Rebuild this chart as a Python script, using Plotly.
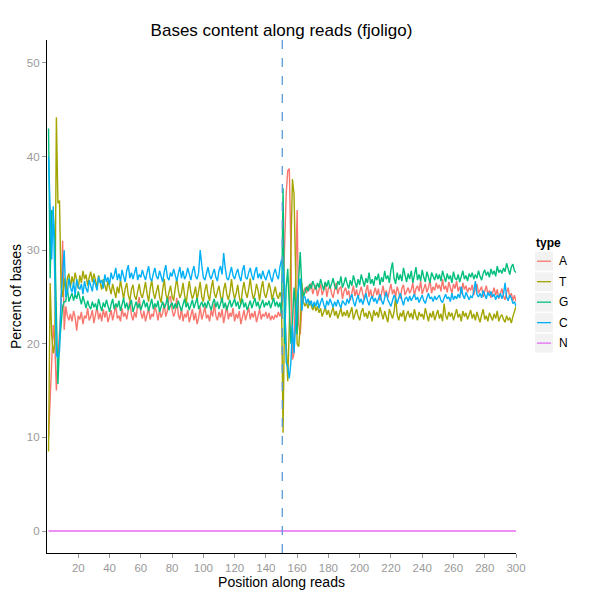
import plotly.graph_objects as go

positions = list(range(1, 301))

A = [10.0, 14.0, 18.0, 22.0, 20.0, 15.0, 18.5, 21.0, 24.0, 31.0, 21.5, 24.0, 23.0, 22.5, 23.2, 22.4, 23.5, 22.8, 21.4, 23.0,
     22.6, 23.4, 22.1, 23.0, 22.7, 23.8, 22.5, 22.9, 23.6, 22.2, 23.1, 24.0, 22.6, 23.3, 22.4, 23.7, 22.8, 23.5, 22.3, 22.9,
     23.6, 22.5, 23.2, 24.1, 22.7, 23.0, 22.4, 23.8, 22.9, 23.3, 22.6, 23.9, 24.6, 23.1, 22.5, 23.4, 22.8, 24.2, 25.0, 23.3,
     22.7, 23.5, 22.4, 23.1, 23.8, 22.6, 23.2, 22.9, 24.0, 23.4, 22.5, 23.6, 22.8, 23.3, 24.3, 22.9, 23.5, 24.8, 25.1, 23.7,
     22.9, 23.4, 24.9, 23.1, 22.6, 23.8, 22.4, 23.2, 22.8, 23.6, 22.3, 23.0, 23.7, 22.5, 23.3, 22.1, 22.8, 23.9, 22.6, 23.2,
     24.0, 22.7, 23.1, 22.4, 23.6, 22.9, 24.3, 23.0, 22.5, 23.4, 22.8, 23.7, 22.2, 23.1, 24.1, 22.6, 23.3, 22.9, 23.8, 22.4,
     23.2, 22.7, 23.5, 22.1, 22.9, 23.6, 22.5, 23.1, 23.9, 22.6, 23.3, 22.8, 23.5, 22.3, 23.0, 23.7, 22.6, 23.2, 22.9, 23.4,
     22.7, 23.3, 22.5, 23.0, 22.6, 23.1, 22.8, 23.4, 22.9, 23.6,
     25.0, 30.0, 36.0, 38.5, 38.7, 30.0, 18.3, 19.0, 26.0, 34.3, 22.0, 21.0, 24.0, 25.5, 26.0, 25.4, 26.2, 25.7, 26.5, 25.3,
     25.9, 26.3, 25.1, 25.8, 26.4, 25.2, 25.7, 26.6, 25.0, 25.9, 26.2, 25.4, 24.9, 25.8, 26.5, 25.3, 25.9, 26.1, 24.8, 25.6,
     26.0, 25.2, 25.7, 24.6, 25.5, 26.2, 25.1, 25.8, 24.9, 25.4, 26.1, 25.3, 24.7, 25.6, 26.3, 25.0, 25.8, 24.8, 25.5, 26.0,
     25.2, 25.9, 24.6, 25.4, 26.2, 25.1, 25.7, 24.9, 25.6, 26.4, 25.3, 25.8, 25.0, 26.1, 25.5, 24.8, 25.9, 26.3, 25.2, 25.7,
     26.0, 25.4, 25.8, 26.5, 25.1, 25.9, 26.2, 25.6, 26.7, 25.3, 25.8, 26.4, 25.5, 26.0, 26.8, 25.4, 26.1, 25.7, 26.5, 25.9,
     26.3, 25.6, 26.9, 25.8, 26.2, 25.5, 26.6, 26.0, 25.4, 26.4, 25.9, 26.7, 25.6, 26.1, 25.3, 26.5, 25.8, 26.2, 25.5, 26.0,
     25.7, 26.3, 25.2, 25.9, 26.4, 25.4, 25.8, 26.1, 25.0, 25.6, 26.2, 25.3, 25.7, 24.9, 25.5, 26.0, 25.2, 25.8, 24.8, 25.4,
     25.9, 25.1, 24.7, 25.5, 26.0, 24.9, 25.4, 24.6, 25.2, 24.5]

T = [8.5, 26.5, 21.0, 19.0, 20.0, 44.2, 35.0, 35.3, 26.0, 25.0, 27.0, 25.5, 27.0, 27.5, 26.0, 27.2, 26.4, 27.6, 26.8, 25.9,
     27.3, 26.5, 27.8, 26.9, 27.4, 26.2, 27.1, 27.7, 26.6, 27.5, 26.8, 26.0, 27.3, 26.5, 25.8, 26.9, 26.2, 25.6, 26.7, 25.9,
     25.3, 26.4, 25.7, 24.9, 26.1, 25.4, 26.8, 25.6, 24.8, 25.9, 26.5, 25.2, 24.6, 25.8, 26.3, 25.1, 24.7, 25.6, 26.4, 25.3,
     24.9, 25.7, 26.6, 25.4, 24.5, 25.9, 26.8, 25.5, 24.8, 25.6, 26.3, 25.0, 24.4, 25.8, 26.9, 25.3, 24.7, 25.5, 26.2, 25.1,
     24.6, 25.9, 27.0, 25.7, 24.9, 25.4, 26.5, 25.2, 24.3, 25.6, 26.7, 25.5, 24.8, 25.3, 26.1, 24.7, 25.8, 26.6, 25.0, 24.5,
     25.7, 26.4, 25.2, 24.6, 25.9, 26.8, 25.4, 24.9, 25.6, 26.2, 25.1, 24.4, 25.8, 26.5, 25.3, 24.7, 25.5, 26.9, 25.6, 24.8,
     25.4, 26.3, 25.0, 24.2, 25.7, 26.6, 25.5, 24.9, 25.8, 27.0, 25.6, 24.8, 25.3, 26.4, 25.7, 24.6, 25.9, 26.7, 25.4, 24.9,
     25.6, 26.5, 25.8, 24.7, 25.4, 26.1, 25.2, 24.8, 25.5, 24.9,
     10.5, 24.0, 20.0, 16.0, 22.0, 32.0, 37.6, 36.0, 28.0, 20.0, 19.7, 22.0, 26.5, 24.5, 24.0, 24.4, 23.8, 24.6, 24.1, 23.6,
     24.2, 23.5, 24.0, 23.3, 23.8, 22.9, 23.4, 23.9, 23.1, 23.6, 22.8, 23.3, 23.9, 23.0, 23.5, 22.7, 23.2, 23.8, 22.9, 23.4,
     23.0, 23.6, 22.8, 23.3, 23.9, 22.6, 23.2, 23.7, 23.0, 22.5, 23.4, 23.8, 22.9, 23.3, 22.7, 23.5, 23.1, 22.4, 23.6, 23.0,
     23.4, 22.8, 23.9, 23.1, 22.6, 23.5, 23.0, 22.3, 23.7, 23.2, 22.7, 23.4, 25.0, 23.1, 22.5, 23.3, 22.9, 23.6, 22.4, 23.1,
     23.5, 22.8, 23.3, 22.6, 23.7, 23.0, 22.5, 23.4, 22.9, 23.2, 22.6, 23.8, 23.0, 22.4, 23.3, 22.8, 23.5, 22.5, 23.1, 23.6,
     22.7, 23.2, 22.4, 24.3, 23.0, 22.6, 23.4, 22.9, 23.3, 22.5, 23.1, 23.7, 22.8, 23.2, 22.4, 23.5, 22.9, 23.3, 22.6, 23.0,
     23.6, 22.7, 23.2, 22.5, 23.4, 22.8, 22.3, 23.1, 23.7, 22.6, 23.0, 22.4, 23.3, 22.9, 22.5, 23.2, 22.7, 23.5, 22.4, 22.9,
     23.1, 22.6, 22.3, 23.0, 22.5, 22.8, 22.2, 22.9, 23.4, 24.0]

G = [43.0, 27.0, 34.3, 33.8, 31.0, 22.0, 15.7, 20.0, 22.0, 24.0, 24.5, 24.5, 26.0, 24.5, 25.0, 25.4, 24.6, 25.3, 24.8, 25.6,
     24.9, 24.2, 25.1, 24.4, 23.8, 24.6, 24.0, 23.7, 24.5, 23.9, 24.3, 23.6, 24.8, 24.1, 23.5, 24.4, 23.9, 24.7, 24.0, 23.4,
     24.2, 24.8, 23.7, 24.3, 23.9, 24.6, 23.5, 24.1, 24.9, 23.8, 24.4, 23.6, 24.2, 24.7, 23.4, 24.0, 24.5, 23.8, 24.3, 23.6,
     24.1, 24.7, 23.9, 24.4, 23.5, 24.2, 24.8, 23.7, 24.3, 23.9, 24.6, 23.4, 24.0, 24.5, 23.8, 24.2, 24.9, 23.6, 24.1, 24.4,
     23.7, 24.3, 23.8, 24.6, 24.0, 23.5, 24.2, 24.8, 23.9, 24.4, 23.6, 24.1, 24.7, 23.8, 24.3, 24.9, 23.7, 24.2, 24.5, 23.9,
     24.4, 23.8, 24.6, 24.1, 23.6, 24.3, 24.8, 23.9, 24.5, 23.7, 24.2, 24.9, 23.8, 24.4, 23.6, 24.1, 24.7, 23.9, 24.3, 24.8,
     24.0, 24.5, 23.7, 24.2, 24.8, 23.9, 24.4, 23.6, 24.1, 24.6, 23.8, 24.3, 24.9, 24.0, 24.5, 23.7, 24.2, 24.7, 23.9, 24.4,
     24.1, 24.6, 23.8, 24.3, 24.9, 24.0, 24.5, 23.9, 24.4, 23.2,
     36.6, 20.0, 26.0, 28.0, 23.0, 20.0, 22.0, 26.0, 24.0, 21.0, 27.0, 29.8, 26.0, 25.0, 25.5, 26.1, 25.6, 26.4, 25.9, 26.7,
     26.2, 25.8, 26.5, 26.0, 26.9, 26.3, 25.7, 26.6, 26.1, 26.8, 25.9, 26.4, 27.0, 26.2, 25.8, 26.7, 26.3, 27.2, 26.0, 26.5,
     27.1, 26.4, 25.9, 26.8, 26.2, 27.3, 26.6, 26.0, 26.9, 26.3, 27.4, 26.7, 26.1, 27.0, 26.5, 27.6, 26.4, 26.9, 26.2, 27.2,
     26.8, 27.5, 26.3, 27.1, 26.6, 27.8, 26.9, 27.3, 26.5, 27.9, 28.7, 27.0, 26.4, 27.6, 26.8, 27.4, 26.7, 28.1, 27.2, 26.6,
     27.5, 26.9, 27.8, 26.5, 27.3, 28.2, 26.8, 27.4, 26.7, 27.9, 27.1, 26.6, 27.7, 27.0, 26.5, 27.6, 27.2, 26.8, 27.5, 26.9,
     27.4, 26.7, 27.8, 27.1, 26.6, 27.5, 26.9, 27.3, 26.5, 27.7, 27.0, 26.8, 27.4, 26.6, 27.2, 27.8, 26.9, 27.3, 26.7, 27.5,
     27.1, 27.6, 26.9, 27.4, 27.0, 27.8, 27.2, 26.8, 27.5, 27.9, 27.3, 27.7, 27.1, 28.0, 27.4, 27.8, 27.2, 28.3, 27.6, 27.9,
     27.5, 28.1, 27.7, 28.6, 28.0, 27.4, 28.2, 28.5, 27.8, 27.6]

C = [40.0, 35.3, 29.0, 34.7, 26.0, 18.8, 18.5, 19.2, 25.0, 27.5, 30.0, 25.0, 25.5, 27.0, 26.0, 25.5, 26.6, 25.2, 26.9, 26.1,
     25.8, 26.4, 25.3, 26.7, 25.9, 25.5, 26.8, 26.2, 25.6, 26.9, 26.4, 25.7, 27.2, 26.5, 26.8, 25.9, 27.4, 26.6, 27.1, 26.3,
     27.6, 26.9, 27.3, 28.1, 26.8, 27.5, 26.7, 27.9, 27.2, 26.6, 27.8, 28.4, 27.0, 27.6, 26.9, 27.7, 28.2, 26.8, 27.4, 27.1,
     27.9, 27.3, 26.8, 27.6, 28.3, 27.0, 26.7, 27.5, 28.1, 27.2, 26.9, 27.8, 27.3, 26.6, 27.7, 28.4, 27.1, 26.8, 27.6, 27.2,
     28.0, 27.4, 26.7, 27.5, 28.2, 27.0, 27.8, 26.9, 27.3, 28.1, 27.5, 26.8, 27.7, 28.3, 27.2, 26.9, 27.6, 30.0, 28.4, 27.1,
     26.8, 27.7, 28.2, 27.3, 26.9, 27.5, 28.0, 27.1, 26.7, 27.8, 28.3, 27.4, 29.7, 28.1, 27.0, 26.8, 27.6, 28.2, 27.3, 26.9,
     27.5, 28.0, 27.2, 26.7, 27.8, 28.4, 27.1, 26.9, 27.6, 28.1, 27.3, 26.8, 27.7, 28.2, 27.0, 27.5, 26.9, 27.8, 27.2, 26.8,
     27.4, 27.9, 27.1, 26.6, 27.5, 28.0, 27.3, 26.9, 28.2, 29.0,
     28.0, 26.0, 18.0, 17.5, 16.3, 18.0, 22.0, 19.0, 22.0, 24.7, 26.0, 27.0, 23.5, 25.0, 25.0, 24.3, 24.8, 24.1, 24.6, 23.9,
     24.5, 24.0, 24.7, 23.8, 24.4, 24.9, 24.2, 23.7, 24.6, 24.1, 24.8, 24.3, 23.9, 24.5, 24.0, 24.7, 24.2, 23.8, 24.6, 24.4,
     24.1, 24.8, 24.3, 24.9, 25.3, 24.5, 24.0, 24.7, 25.2, 24.4, 24.8, 24.2, 24.9, 25.4, 24.6, 24.1, 24.8, 25.1, 24.5, 24.9,
     24.3, 24.8, 25.3, 24.6, 24.2, 24.9, 25.5, 24.7, 24.4, 24.0, 24.6, 25.2, 24.8, 24.3, 24.9, 25.4, 24.7, 24.1, 24.8, 25.0,
     24.5, 25.1, 24.6, 24.9, 25.3, 24.7, 25.0, 24.4, 24.8, 25.2, 24.6, 24.3, 24.9, 25.4, 24.8, 25.0, 24.5, 25.1, 24.7, 24.9,
     25.2, 24.6, 24.4, 24.9, 25.3, 24.8, 25.0, 24.5, 25.4, 24.7, 25.1, 24.8, 25.3, 24.9, 26.1, 25.2, 24.8, 25.5, 25.0, 24.7,
     25.1, 24.9, 25.6, 26.7, 25.3, 25.0, 25.4, 24.9, 25.7, 25.2, 24.8, 25.5, 25.1, 25.6, 25.0, 25.3, 24.7, 25.2, 24.9, 25.4,
     24.8, 25.3, 26.5, 25.0, 24.6, 25.2, 24.9, 24.3, 24.5, 24.0]

N = [0.0] * 300

types = ["A", "T", "G", "C", "N"]
series = [A, T, G, C, N]
colors = ["#F8766D", "#A3A500", "#00BF7D", "#00B0F6", "#E76BF3"]
split_position = 150.5
x_ticks = list(range(20, 301, 20))
y_ticks = [0, 10, 20, 30, 40, 50]

fig = go.Figure()
for name, vals, col in zip(types, series, colors):
    fig.add_trace(go.Scatter(x=positions[:len(vals)], y=vals, mode="lines", name=name,
                             line=dict(color=col, width=1.4), showlegend=False))

fig.add_shape(type="line", x0=split_position, x1=split_position, y0=0, y1=1,
              xref="x", yref="paper", line=dict(color="#5A9BD5", width=1.3, dash="dash"))

W, H = 600, 600
L, R, Tm, B = 47, 84, 40, 44
pw, ph = W - L - R, H - Tm - B

def px2dom(px, py):
    return (px - L) / pw, (H - B - py) / ph

# manual ggplot-like legend
tx, ty = px2dom(534, 244)
fig.add_annotation(text="<b>type</b>", x=tx, y=ty, xref="paper", yref="paper",
                   xanchor="left", yanchor="middle", showarrow=False,
                   font=dict(size=12, color="black", family="Liberation Sans, Arial"))
for i, (name, col) in enumerate(zip(types, colors)):
    top = 253 + i * 20.6
    x0, y0 = px2dom(535, top + 19)
    x1, y1 = px2dom(553, top)
    fig.add_shape(type="rect", x0=x0, x1=x1, y0=y0, y1=y1, xref="paper", yref="paper",
                  fillcolor="#F2F2F2", line=dict(width=0))
    lx0, ly = px2dom(537, top + 9.5)
    lx1, _ = px2dom(551, top + 9.5)
    fig.add_shape(type="line", x0=lx0, x1=lx1, y0=ly, y1=ly, xref="paper", yref="paper",
                  line=dict(color=col, width=1.3))
    ax, ay = px2dom(557, top + 9.5)
    fig.add_annotation(text=name, x=ax, y=ay, xref="paper", yref="paper",
                       xanchor="left", yanchor="middle", showarrow=False,
                       font=dict(size=12, color="black", family="Liberation Sans, Arial"))

fig.update_layout(
    width=W, height=H,
    margin=dict(l=L, r=R, t=Tm, b=B),
    paper_bgcolor="white", plot_bgcolor="white",
    font=dict(family="Liberation Sans, Arial", color="black"),
    title=dict(text="Bases content along reads (fjoligo)", x=(L + pw / 2) / W, xanchor="center",
               y=1 - 30 / H, yanchor="middle", font=dict(size=17, color="black")),
    xaxis=dict(range=[0, 300], tickmode="array", tickvals=x_ticks, showgrid=False, zeroline=False,
               showline=True, linecolor="black", linewidth=1.2, ticks="outside", ticklen=4,
               tickcolor="#999999", tickfont=dict(size=11.5, color="#999999"),
               title=dict(text="Position along reads", font=dict(size=14, color="black"), standoff=4)),
    yaxis=dict(range=[-2.35, 52.45], tickmode="array", tickvals=y_ticks, showgrid=False, zeroline=False,
               showline=True, linecolor="black", linewidth=1.2, ticks="outside", ticklen=4,
               tickcolor="#999999", tickfont=dict(size=11.5, color="#999999"),
               title=dict(text="Percent of bases", font=dict(size=14, color="black"), standoff=1)),
)

fig.write_html("out.html")
